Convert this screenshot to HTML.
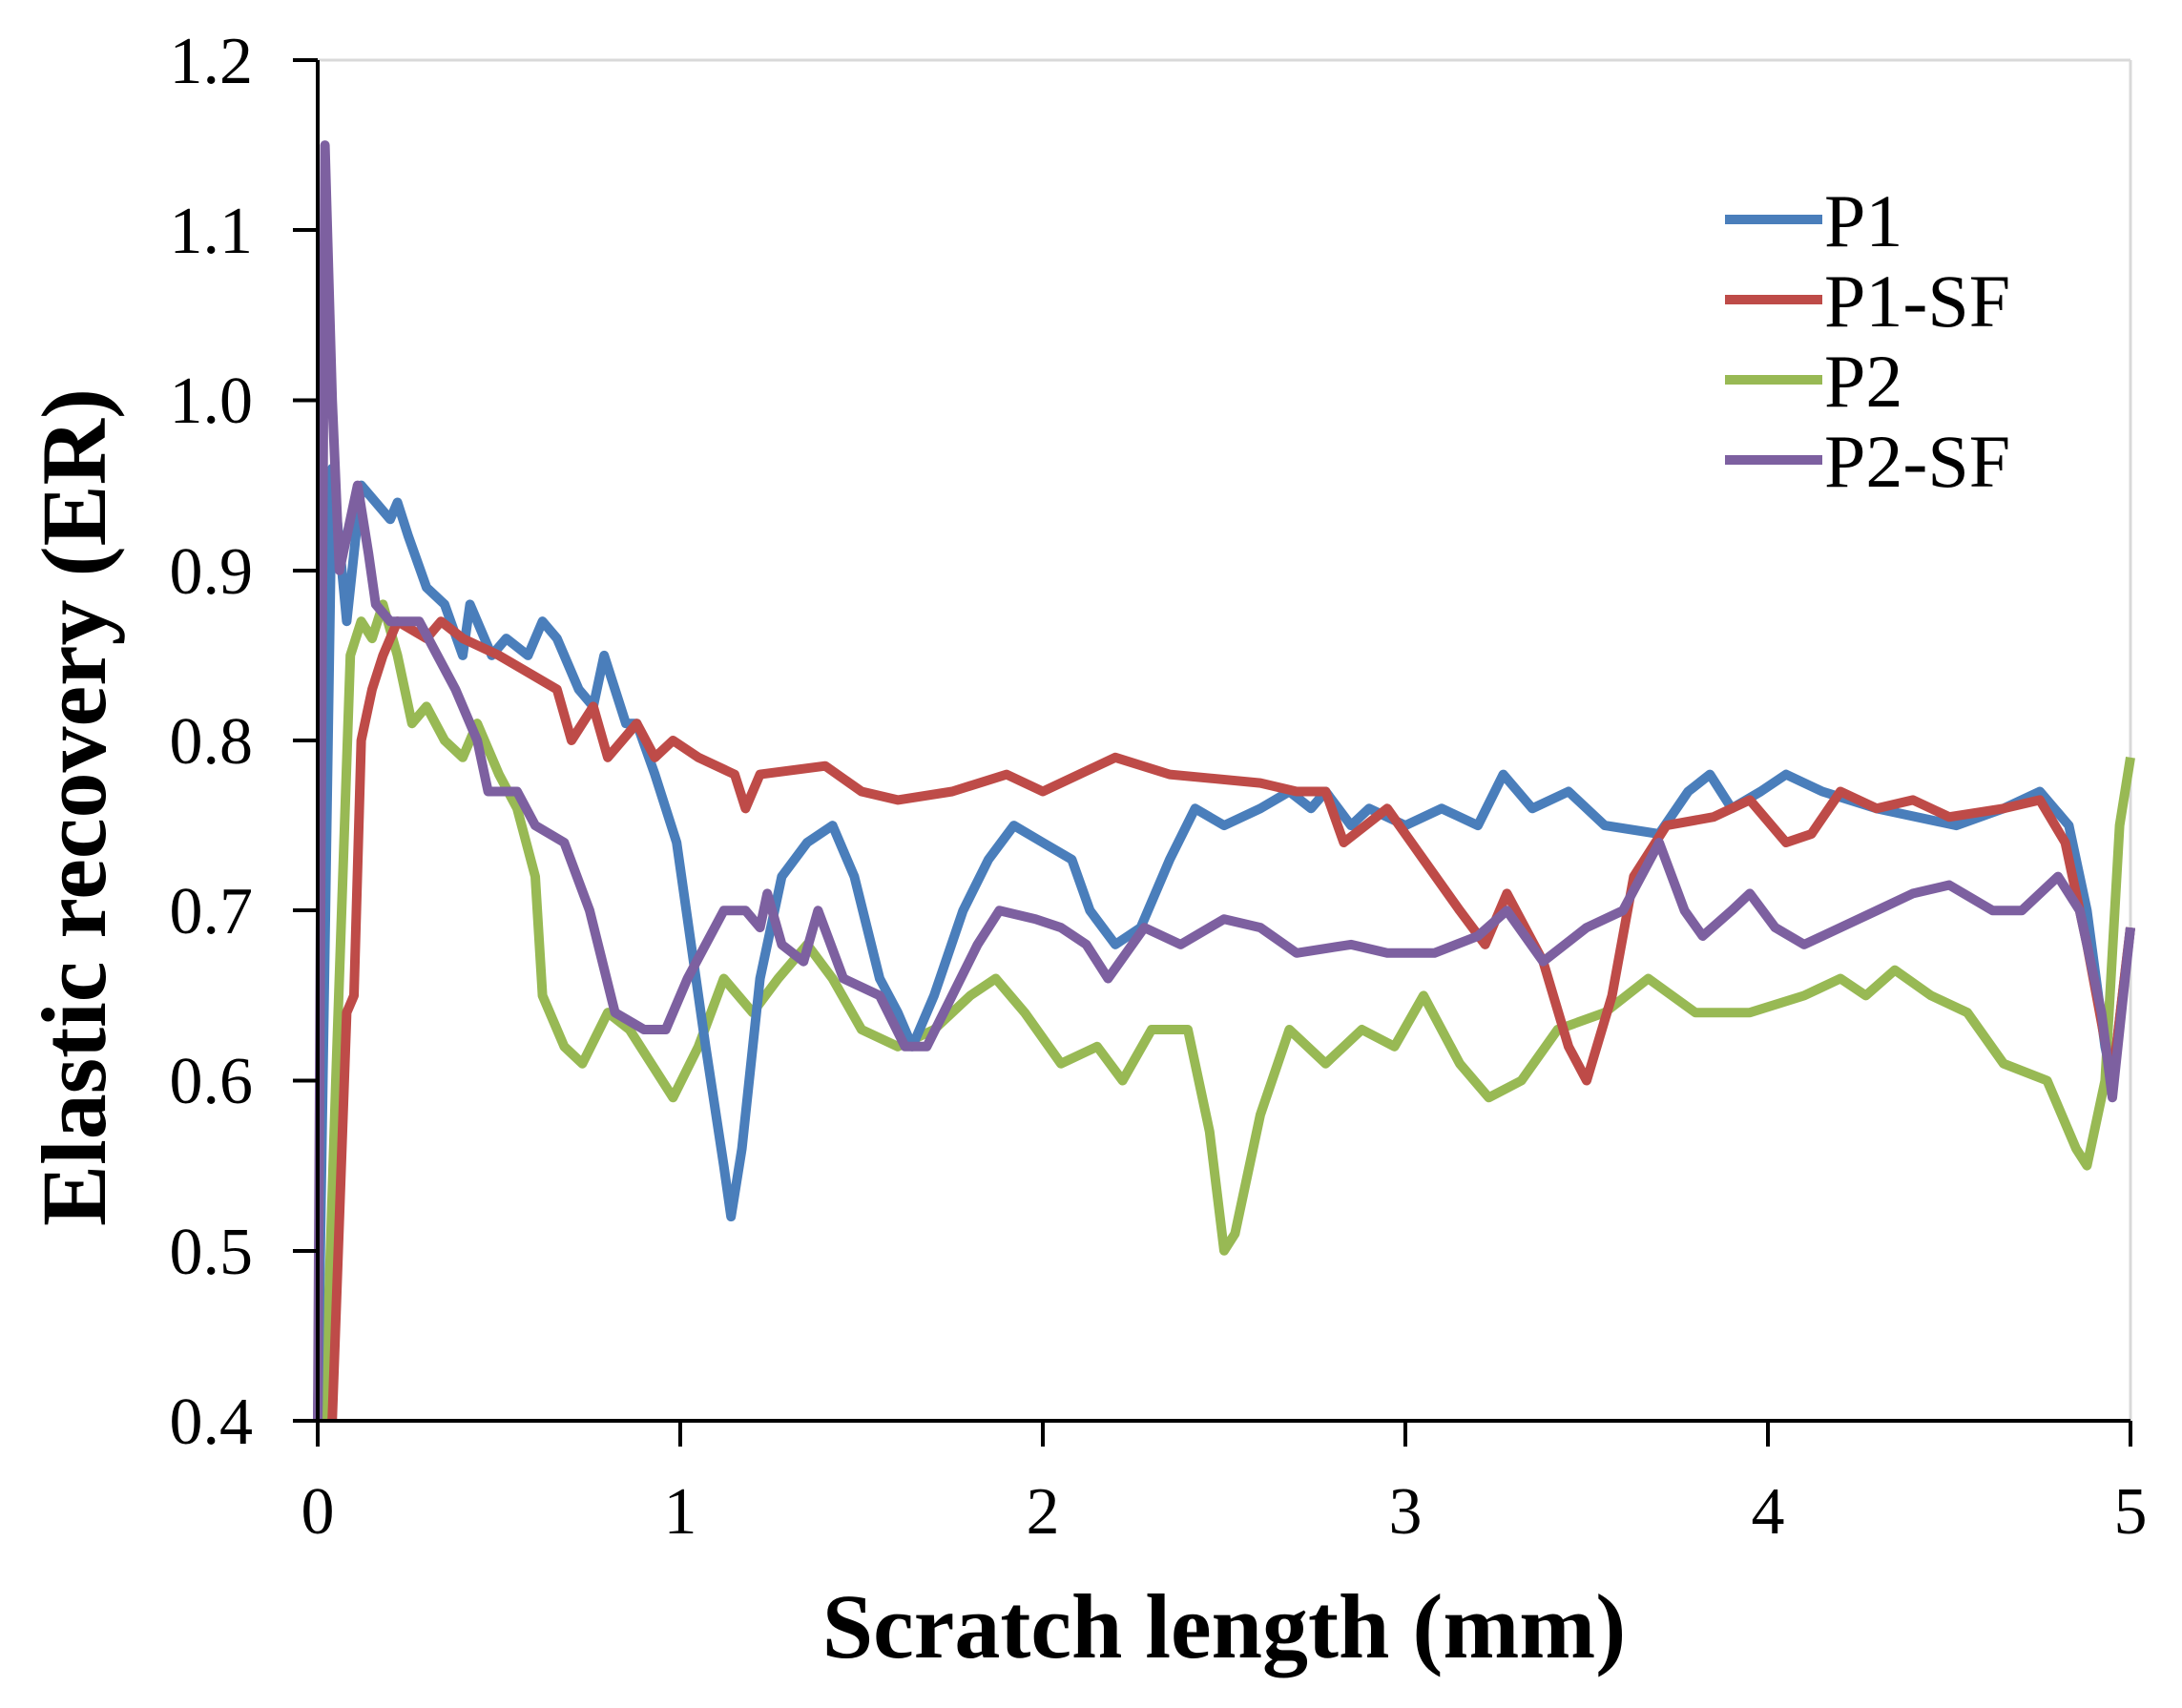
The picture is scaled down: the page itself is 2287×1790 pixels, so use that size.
<!DOCTYPE html>
<html><head><meta charset="utf-8"><style>
html,body{margin:0;padding:0;background:#fff;}
svg{display:block;}
text{font-family:"Liberation Serif",serif;fill:#000;}
</style></head><body>
<svg id="s" width="2287" height="1790" viewBox="0 0 2287 1790" xmlns="http://www.w3.org/2000/svg">
<rect width="2287" height="1790" fill="#fff"/>
<line x1="333" y1="63" x2="2233" y2="63" stroke="#d9d9d9" stroke-width="3"/>
<line x1="2233" y1="63" x2="2233" y2="1489" stroke="#d9d9d9" stroke-width="3"/>
<g id="series" fill="none" stroke-width="10" stroke-linejoin="round"></g>
<g stroke="#000" stroke-width="4">
<line x1="333" y1="63" x2="333" y2="1489"/>
<line x1="307" y1="1489" x2="2233" y2="1489"/>
<line x1="307" y1="63" x2="333" y2="63"/>
<line x1="307" y1="241" x2="333" y2="241"/>
<line x1="307" y1="419.5" x2="333" y2="419.5"/>
<line x1="307" y1="598" x2="333" y2="598"/>
<line x1="307" y1="776" x2="333" y2="776"/>
<line x1="307" y1="954" x2="333" y2="954"/>
<line x1="307" y1="1132.5" x2="333" y2="1132.5"/>
<line x1="307" y1="1311" x2="333" y2="1311"/>
<line x1="333" y1="1489" x2="333" y2="1516"/>
<line x1="713" y1="1489" x2="713" y2="1516"/>
<line x1="1093" y1="1489" x2="1093" y2="1516"/>
<line x1="1473" y1="1489" x2="1473" y2="1516"/>
<line x1="1853" y1="1489" x2="1853" y2="1516"/>
<line x1="2233" y1="1489" x2="2233" y2="1516"/>
</g>
<g font-size="70" text-anchor="end">
<text x="265" y="87">1.2</text>
<text x="265" y="265">1.1</text>
<text x="265" y="443">1.0</text>
<text x="265" y="622">0.9</text>
<text x="265" y="800">0.8</text>
<text x="265" y="978">0.7</text>
<text x="265" y="1156">0.6</text>
<text x="265" y="1335">0.5</text>
<text x="265" y="1513">0.4</text>
</g>
<g font-size="70" text-anchor="middle">
<text x="333" y="1607">0</text>
<text x="713" y="1607">1</text>
<text x="1093" y="1607">2</text>
<text x="1473" y="1607">3</text>
<text x="1853" y="1607">4</text>
<text x="2233" y="1607">5</text>
</g>
<text x="1283" y="1737" font-size="96" font-weight="bold" text-anchor="middle">Scratch length (mm)</text>
<text transform="translate(110,846) rotate(-90)" font-size="96" font-weight="bold" text-anchor="middle">Elastic recovery (ER)</text>
<g stroke-width="10">
<line x1="1808" y1="230" x2="1910" y2="230" stroke="#4a7ebb"/>
<line x1="1808" y1="314" x2="1910" y2="314" stroke="#be4b48"/>
<line x1="1808" y1="398" x2="1910" y2="398" stroke="#98b954"/>
<line x1="1808" y1="482" x2="1910" y2="482" stroke="#7d60a0"/>
</g>
<g font-size="78">
<text x="1912" y="258">P1</text>
<text x="1912" y="342">P1-SF</text>
<text x="1912" y="426">P2</text>
<text x="1912" y="510">P2-SF</text>
</g>
</svg>
<script>
var X=function(v){return 333+380*v},Y=function(v){return 1489-(v-0.4)*1782.5};
var D={
"#98b954":[0.02,.4,.05,.6,.09,.85,.12,.87,.15,.86,.18,.88,.22,.85,.26,.81,.3,.82,.35,.8,.4,.79,.44,.81,.5,.78,.55,.76,.6,.72,.62,.65,.68,.62,.73,.61,.8,.64,.86,.63,.92,.61,.98,.59,1.05,.62,1.12,.66,1.2,.64,1.27,.66,1.35,.68,1.42,.66,1.5,.63,1.6,.62,1.7,.63,1.8,.65,1.87,.66,1.95,.64,2.05,.61,2.15,.62,2.22,.6,2.3,.63,2.4,.63,2.46,.57,2.5,.5,2.53,.51,2.6,.58,2.68,.63,2.78,.61,2.88,.63,2.97,.62,3.05,.65,3.15,.61,3.23,.59,3.32,.6,3.42,.63,3.55,.64,3.67,.66,3.8,.64,3.95,.64,4.1,.65,4.2,.66,4.27,.65,4.35,.665,4.45,.65,4.55,.64,4.65,.61,4.77,.6,4.85,.56,4.88,.55,4.93,.6,4.97,.75,5,.79],
"#4a7ebb":[0,.4,.04,.96,.08,.87,.12,.95,.2,.93,.22,.94,.25,.92,.3,.89,.35,.88,.4,.85,.42,.88,.48,.85,.52,.86,.58,.85,.62,.87,.66,.86,.72,.83,.76,.82,.79,.85,.85,.81,.88,.81,.93,.78,.99,.74,1.03,.68,1.07,.62,1.12,.55,1.14,.52,1.17,.56,1.22,.66,1.28,.72,1.35,.74,1.42,.75,1.48,.72,1.55,.66,1.6,.64,1.64,.62,1.7,.65,1.78,.7,1.85,.73,1.92,.75,2,.74,2.08,.73,2.13,.7,2.2,.68,2.27,.69,2.35,.73,2.42,.76,2.5,.75,2.6,.76,2.68,.77,2.74,.76,2.78,.77,2.85,.75,2.9,.76,3,.75,3.1,.76,3.2,.75,3.27,.78,3.35,.76,3.45,.77,3.55,.75,3.7,.745,3.78,.77,3.84,.78,3.9,.76,3.98,.77,4.05,.78,4.15,.77,4.3,.76,4.52,.75,4.65,.76,4.75,.77,4.83,.75,4.88,.7,4.93,.62,4.95,.6,5,.69],
"#be4b48":[0.04,.4,.08,.64,.1,.65,.12,.8,.15,.83,.18,.85,.22,.87,.3,.86,.34,.87,.4,.86,.5,.85,.58,.84,.66,.83,.7,.8,.76,.82,.8,.79,.88,.81,.93,.79,.98,.8,1.05,.79,1.15,.78,1.18,.76,1.22,.78,1.4,.785,1.5,.77,1.6,.765,1.75,.77,1.9,.78,2,.77,2.1,.78,2.2,.79,2.35,.78,2.6,.775,2.7,.77,2.78,.77,2.83,.74,2.95,.76,3.05,.73,3.15,.7,3.22,.68,3.28,.71,3.38,.67,3.45,.62,3.5,.6,3.57,.65,3.63,.72,3.72,.75,3.85,.755,3.95,.765,4.05,.74,4.12,.745,4.2,.77,4.3,.76,4.4,.765,4.5,.755,4.65,.76,4.75,.765,4.82,.74,4.88,.68,4.95,.6,5,.69],
"#7d60a0":[0,.4,.02,1.15,.04,1,.06,.9,.09,.93,.11,.95,.14,.91,.16,.88,.2,.87,.28,.87,.33,.85,.38,.83,.44,.8,.47,.77,.55,.77,.6,.75,.68,.74,.75,.7,.82,.64,.9,.63,.96,.63,1.02,.66,1.12,.7,1.18,.7,1.22,.69,1.24,.71,1.28,.68,1.34,.67,1.38,.7,1.45,.66,1.55,.65,1.62,.62,1.68,.62,1.75,.65,1.82,.68,1.88,.7,1.98,.695,2.05,.69,2.12,.68,2.18,.66,2.28,.69,2.38,.68,2.5,.695,2.6,.69,2.7,.675,2.85,.68,2.95,.675,3.08,.675,3.2,.685,3.28,.7,3.38,.67,3.5,.69,3.6,.7,3.7,.74,3.77,.7,3.82,.685,3.9,.7,3.95,.71,4.02,.69,4.1,.68,4.2,.69,4.3,.7,4.4,.71,4.5,.715,4.62,.7,4.7,.7,4.8,.72,4.86,.7,4.92,.64,4.95,.59,5,.69]};
var g=document.getElementById("series"),h="";
for(var c in D){var a=D[c],p=[];for(var i=0;i<a.length;i+=2)p.push(X(a[i]).toFixed(1)+","+Y(a[i+1]).toFixed(1));
h+='<polyline stroke="'+c+'" points="'+p.join(" ")+'"/>';}
g.innerHTML=h;
</script>
</body></html>
